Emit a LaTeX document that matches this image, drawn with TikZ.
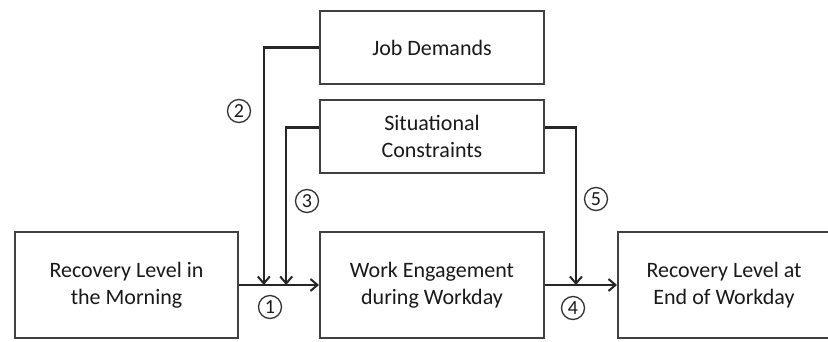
\documentclass[tikz,border=0pt]{standalone}
\usepackage{fontspec}
\setmainfont{Carlito}
\usepackage{tikz}
\usetikzlibrary{positioning,calc,arrows.meta}

\tikzset{
    box/.style={draw=black!75, line width=2pt, align=center, text=black!90,
        font=\fontsize{22}{27}\selectfont, minimum width=224pt},
    arr/.style={draw=black!85, line width=2.2pt, -{Straight Barb[length=7pt,width=12pt,line width=2pt]}},
    num/.style={circle, draw=black!80, line width=1.3pt, inner sep=0pt, minimum size=23pt,
        text=black!90, font=\fontsize{20}{20}\selectfont}
}

\begin{document}
\begin{tikzpicture}[x=1pt, y=1pt]
    \useasboundingbox (0,0) rectangle (828,341);

    \node [box, minimum width=223pt, minimum height=106pt] (morning) at (126.5,56) {Recovery Level in\\the Morning};
    \node [box, minimum height=106pt, right=80pt of morning] (engage) {Work Engagement\\during Workday};
    \node [box, minimum width=212pt, minimum height=106pt, right=72pt of engage] (endday) {Recovery Level at\\End of Workday};
    \node [box, minimum height=73pt, above=57pt of engage] (sit) {Situational\\Constraints};
    \node [box, minimum height=73pt, above=14pt of sit] (job) {Job Demands};

    \coordinate (j1) at ($(morning.east)!0.31!(engage.west)$);
    \coordinate (j2) at ($(morning.east)!0.59!(engage.west)$);
    \coordinate (j3) at ($(engage.east)!0.43!(endday.west)$);

    \draw [arr] (morning.east) -- (engage.west);
    \draw [arr] (engage.east) -- (endday.west);
    \draw [arr] (job.west) -| (j1);
    \draw [arr] ([yshift=9pt]sit.west) -| (j2);
    \draw [arr] ([yshift=9pt]sit.east) -| (j3);

    \node [num] (n1) at (270,34) {1};
    \node [num] (n2) at (239,230) {2};
    \node [num] (n3) at (307,140) {3};
    \node [num] (n4) at (573,33) {4};
    \node [num] (n5) at (596,142) {5};
\end{tikzpicture}
\end{document}
